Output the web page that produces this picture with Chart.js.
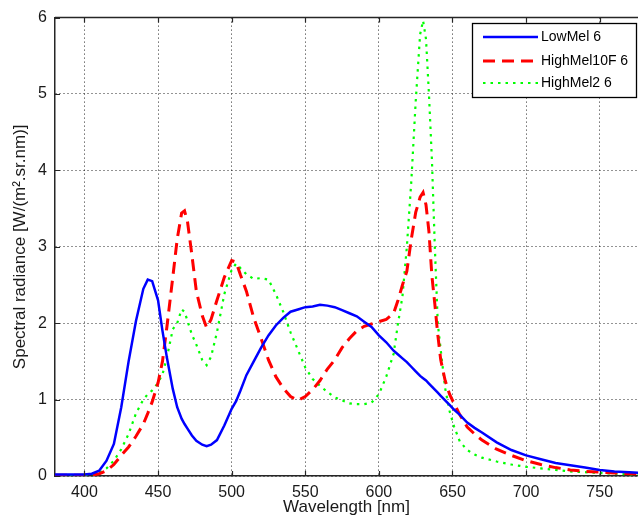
<!DOCTYPE html>
<html>
<head>
<meta charset="utf-8">
<script src="https://cdn.jsdelivr.net/npm/chart.js@4.4.1/dist/chart.umd.min.js"></script>
<style>
  html, body { margin: 0; padding: 0; background: #ffffff; }
  #wrap { width: 638px; height: 528px; }
</style>
</head>
<body>
<div id="wrap"><canvas id="c" width="638" height="528"></canvas></div>
<script>
const wavelengths = [380,385,390,395,400,405,410,415,420,425,430,435,440,443,446,450,453,456,460,463,466,468,470,473,476,480,483,486,490,495,500,503,506,510,515,520,525,530,535,540,545,550,555,560,565,570,575,580,585,590,595,600,605,610,613,616,619,622,625,628,630,632,634,636,638,640,642,645,648,651,655,660,665,670,680,690,700,710,720,730,740,750,760,770,780];

const lowMel6 = [0.02,0.02,0.02,0.02,0.02,0.03,0.07,0.2,0.42,0.9,1.5,2.03,2.45,2.57,2.55,2.3,1.9,1.55,1.14,0.9,0.75,0.68,0.62,0.53,0.46,0.41,0.39,0.41,0.47,0.66,0.88,0.98,1.12,1.32,1.5,1.68,1.84,1.97,2.07,2.15,2.18,2.21,2.22,2.24,2.23,2.21,2.17,2.13,2.09,2.02,1.95,1.84,1.75,1.64,1.59,1.54,1.49,1.43,1.37,1.31,1.28,1.25,1.21,1.17,1.13,1.09,1.05,0.99,0.93,0.87,0.8,0.7,0.63,0.57,0.44,0.34,0.27,0.22,0.17,0.14,0.11,0.08,0.06,0.05,0.04];

const highMel10F6 = [0.01,0.01,0.01,0.01,0.01,0.01,0.03,0.07,0.15,0.27,0.38,0.52,0.68,0.82,0.97,1.22,1.5,1.95,2.6,3.1,3.44,3.47,3.33,2.89,2.42,2.1,1.94,2.05,2.3,2.6,2.82,2.8,2.63,2.42,2.07,1.8,1.52,1.3,1.15,1.04,0.99,1.04,1.13,1.25,1.4,1.52,1.68,1.8,1.9,1.96,1.99,2.02,2.05,2.13,2.3,2.5,2.68,3.1,3.45,3.65,3.71,3.55,3.2,2.62,2.25,1.85,1.52,1.25,1.07,0.95,0.8,0.64,0.55,0.47,0.35,0.27,0.2,0.15,0.11,0.08,0.06,0.05,0.04,0.03,0.03];

const highMel26 = [0.01,0.01,0.01,0.01,0.01,0.02,0.04,0.1,0.2,0.35,0.55,0.82,1.0,1.07,1.12,1.22,1.33,1.55,1.92,2.0,2.18,2.15,2.03,1.85,1.72,1.52,1.45,1.56,1.88,2.38,2.7,2.78,2.72,2.64,2.58,2.59,2.57,2.38,2.15,1.88,1.65,1.42,1.27,1.18,1.1,1.03,0.99,0.95,0.94,0.94,0.96,1.07,1.3,1.6,2.0,2.35,3.0,3.85,4.9,5.78,5.96,5.72,5.0,4.15,3.0,2.0,1.65,1.15,0.85,0.65,0.45,0.34,0.28,0.24,0.19,0.15,0.12,0.1,0.08,0.06,0.05,0.04,0.03,0.02,0.02];

const seriesNames = ['LowMel 6', 'HighMel10F 6', 'HighMel2 6'];
const xTicks = [400,450,500,550,600,650,700,750];
const yTicks = [0,1,2,3,4,5,6];
const xTitle = 'Wavelength [nm]';
const yTitle = 'Spectral radiance [W/(m\u00B2.sr.nm)]';

const FONT = "'Liberation Sans', Arial, Helvetica, sans-serif";
const AXIS_COLOR = '#262626';

function pts(vals) { return wavelengths.map((w, i) => ({ x: w, y: vals[i] })); }

const extras = {
  id: 'extras',
  afterDatasetsDraw(chart) {
    const { ctx, chartArea: a, scales: { x, y } } = chart;
    ctx.save();
    ctx.strokeStyle = AXIS_COLOR;
    ctx.lineWidth = 1.5;
    ctx.beginPath();
    ctx.moveTo(a.left, a.top);
    ctx.lineTo(a.right, a.top);
    ctx.stroke();
    ctx.lineWidth = 1.2;
    ctx.beginPath();
    xTicks.forEach(v => {
      const px = Math.round(x.getPixelForValue(v)) + 0.5;
      ctx.moveTo(px, a.bottom); ctx.lineTo(px, a.bottom - 5);
      ctx.moveTo(px, a.top); ctx.lineTo(px, a.top + 5);
    });
    yTicks.forEach(v => {
      const py = Math.round(y.getPixelForValue(v)) + 0.5;
      ctx.moveTo(a.left, py); ctx.lineTo(a.left + 5, py);
    });
    ctx.stroke();
    ctx.restore();
  },
  afterDraw(chart) {
    const { ctx } = chart;
    const bx = 472, by = 23, bw = 165, bh = 75;
    ctx.save();
    ctx.fillStyle = '#ffffff';
    ctx.fillRect(bx, by, bw, bh);
    ctx.strokeStyle = '#000000';
    ctx.lineWidth = 1.3;
    ctx.strokeRect(bx + 0.5, by + 0.5, bw - 1, bh - 1);
    const rows = [37, 61, 83];
    chart.data.datasets.forEach((ds, i) => {
      const yy = rows[i];
      ctx.beginPath();
      ctx.strokeStyle = ds.borderColor;
      ctx.lineWidth = ds.borderWidth;
      ctx.setLineDash(ds.borderDash || []);
      ctx.moveTo(483, yy);
      ctx.lineTo(538, yy);
      ctx.stroke();
      ctx.setLineDash([]);
      ctx.fillStyle = '#000000';
      ctx.font = '14px ' + FONT;
      ctx.textBaseline = 'middle';
      ctx.textAlign = 'left';
      ctx.fillText(ds.label, 541, yy + 0.5);
    });
    ctx.restore();
  }
};

new Chart(document.getElementById('c'), {
  type: 'line',
  data: {
    datasets: [
      { label: seriesNames[0], data: pts(lowMel6), borderColor: '#0000ff', borderWidth: 2.5, pointRadius: 0, tension: 0, fill: false },
      { label: seriesNames[1], data: pts(highMel10F6), borderColor: '#ff0000', borderWidth: 3, borderDash: [12, 7], pointRadius: 0, tension: 0, fill: false },
      { label: seriesNames[2], data: pts(highMel26), borderColor: '#00ff00', borderWidth: 2.2, borderDash: [2.5, 5], pointRadius: 0, tension: 0, fill: false }
    ]
  },
  options: {
    responsive: false,
    animation: false,
    layout: { padding: { top: 14, right: 0, left: 0, bottom: 0 } },
    plugins: { legend: { display: false }, tooltip: { enabled: false } },
    scales: {
      x: {
        type: 'linear',
        min: 380,
        max: 776,
        afterBuildTicks: s => { s.ticks = xTicks.map(v => ({ value: v })); },
        afterFit: s => { s.height = 52; },
        ticks: { color: '#1a1a1a', font: { family: FONT, size: 16 }, padding: 7, maxRotation: 0, autoSkip: false },
        grid: { color: 'rgba(0,0,0,0.85)', lineWidth: 1, drawTicks: false },
        border: { display: true, color: AXIS_COLOR, width: 1.5, dash: [1, 3] },
        title: { display: true, text: xTitle, color: '#1a1a1a', font: { family: FONT, size: 17 }, padding: { top: 0, bottom: 10 } }
      },
      y: {
        type: 'linear',
        min: 0,
        max: 6,
        afterBuildTicks: s => { s.ticks = yTicks.map(v => ({ value: v })); },
        afterFit: s => { s.width = 55; },
        ticks: { color: '#1a1a1a', font: { family: FONT, size: 16 }, padding: 8 },
        grid: { color: 'rgba(0,0,0,0.85)', lineWidth: 1, drawTicks: false },
        border: { display: true, color: AXIS_COLOR, width: 1.5, dash: [1, 3] },
        title: { display: true, text: yTitle, color: '#1a1a1a', font: { family: FONT, size: 17 }, padding: { top: 10, bottom: 0 } }
      }
    }
  },
  plugins: [extras]
});
</script>
</body>
</html>
